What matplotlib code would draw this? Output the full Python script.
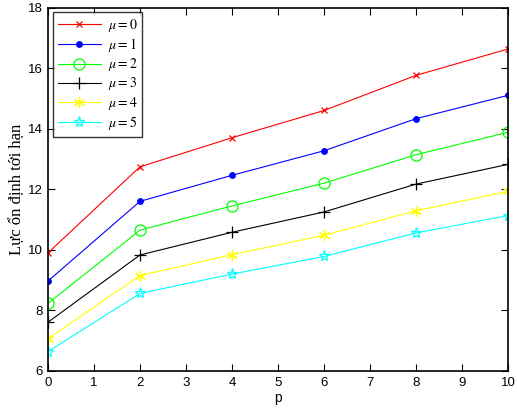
import matplotlib
matplotlib.use("Agg")
import matplotlib.pyplot as plt

p = [0, 2, 4, 6, 8, 10]
mu0 = [9.90, 12.74, 13.70, 14.60, 15.76, 16.63]
mu1 = [8.97, 11.60, 12.46, 13.27, 14.33, 15.10]
mu2 = [8.23, 10.65, 11.45, 12.20, 13.14, 13.88]
mu3 = [7.61, 9.83, 10.58, 11.25, 12.17, 12.82]
mu4 = [7.07, 9.15, 9.84, 10.48, 11.29, 11.93]
mu5 = [6.64, 8.56, 9.20, 9.78, 10.56, 11.13]
labels = [r'$\mu = 0$', r'$\mu = 1$', r'$\mu = 2$', r'$\mu = 3$', r'$\mu = 4$', r'$\mu = 5$']
xticks = list(range(0, 11))
yticks = [6, 8, 10, 12, 14, 16, 18]

plt.rcParams['font.family'] = ['Liberation Sans', 'DejaVu Sans']
plt.rcParams['mathtext.fontset'] = 'stix'

fig = plt.figure(figsize=(5.17, 4.08), dpi=100)
ax = fig.add_axes([0.0928, 0.0907, 0.8898, 0.8909])

styles = [
    dict(color='red', marker='x', ms=5, mfc='red'),
    dict(color='blue', marker='.', ms=8, mfc='blue'),
    dict(color='#00ff00', marker='o', ms=8, mfc='none'),
    dict(color='black', marker='+', ms=9, mfc='black'),
    dict(color='yellow', marker=(6, 2, 0), ms=8, mfc='yellow'),
    dict(color='cyan', marker='*', ms=8, mfc='none'),
]
series = [mu0, mu1, mu2, mu3, mu4, mu5]
for ys, st, lab in zip(series, styles, labels):
    ax.plot(p, ys, lw=0.8, label=lab, mew=0.9, **st)

ax.set_xlim(0, 10)
ax.set_ylim(6, 18)
ax.set_xticks(xticks)
ax.set_yticks(yticks)
ax.tick_params(direction='in', top=True, right=True, length=5, width=0.8, labelsize=9.5, pad=4)
for s in ax.spines.values():
    s.set_linewidth(1.2)
ax.set_xlabel('p', fontsize=10, labelpad=2)
ax.set_ylabel('Lực ổn định tới hạn', fontsize=12, family=['Liberation Serif', 'DejaVu Serif'], labelpad=2)

leg = ax.legend(loc='upper left', fontsize=10, frameon=True, fancybox=False,
                edgecolor='black', handlelength=3.1, borderaxespad=0.35,
                labelspacing=0.15, borderpad=0.35, handletextpad=0.5)
leg.get_frame().set_linewidth(1.0)

fig.savefig('out.png', dpi=100)
